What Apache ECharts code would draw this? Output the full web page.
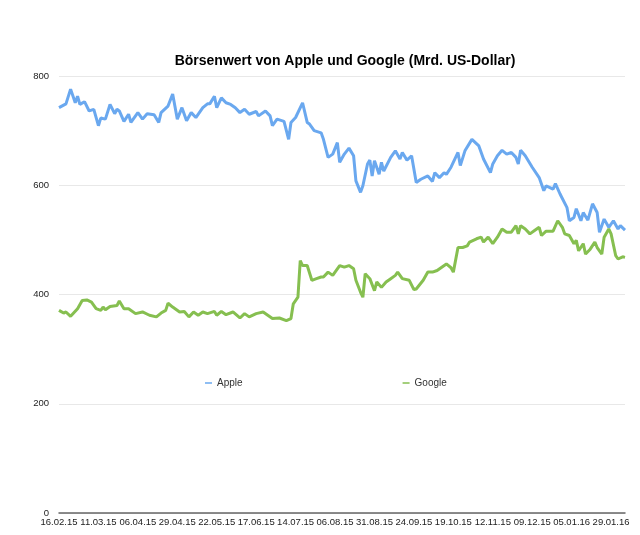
<!DOCTYPE html>
<html lang="de">
<head>
    <meta charset="UTF-8">
    <title>Börsenwert</title>
    <script src="https://cdn.jsdelivr.net/npm/echarts@6/dist/echarts.min.js"></script>
    <style>html,body{margin:0;background:#fff}</style>
</head>
<body>
    <div id="chart1" style="width:640px;height:535px;"></div>
<script type="text/javascript">
    // Handelstage ab 16.02.15, Beschriftung alle 17 Tage
    var tickLabels = ['16.02.15','11.03.15','06.04.15','29.04.15','22.05.15','17.06.15','14.07.15','06.08.15',
        '31.08.15','24.09.15','19.10.15','12.11.15','09.12.15','05.01.16','29.01.16']

    var appleDays = [0,3,5,7,8,9,11,13,15,17,18,20,22,24,25,26,28,30,31,34,36,38,41,43,44,47,49,51,53,55,57,59,62,64,65,67,68,70,72,74,76,78,80,82,85,86,89,91,92,94,97,99,100,102,105,107,108,110,113,114,116,118,120,121,123,125,127,128,130,131,133,134,135,136,138,139,140,143,145,147,148,150,152,154,156,159,161,162,164,166,167,169,172,173,175,178,181,183,186,187,189,191,193,195,197,198,199,201,204,207,209,210,213,214,216,219,220,222,223,225,226,228,230,232,233,235,237,239,241,242,244]
    var appleValues = [742,749,776,751,763,748,753,736,739,709,723,721,748,731,739,736,717,730,715,733,721,731,729,715,733,745,767,721,742,718,733,724,742,749,749,763,742,760,751,748,742,733,739,730,735,727,736,727,709,721,717,684,715,724,751,715,712,700,696,684,651,657,678,642,657,668,654,608,587,599,639,646,617,645,620,642,626,651,663,648,660,646,654,605,611,617,607,623,614,623,620,633,660,636,663,684,672,648,623,639,654,664,657,660,651,639,664,654,633,614,590,599,593,603,584,559,535,541,557,535,550,536,566,550,514,538,523,535,520,526,518]

    var googleDays = [0,2,3,5,8,10,12,14,16,18,19,20,22,25,26,28,30,33,36,39,42,44,46,47,49,52,54,56,58,60,62,64,67,68,70,72,75,78,80,82,85,88,90,92,95,98,100,101,103,104,105,107,109,111,113,114,116,118,121,123,125,127,128,130,131,132,134,136,137,139,141,143,145,146,148,151,153,154,157,159,161,163,165,167,169,170,172,174,176,177,180,182,183,185,187,189,191,193,195,197,198,199,201,203,205,207,208,210,213,215,217,218,220,222,223,224,226,227,229,231,232,234,235,237,238,240,241,243,244]
    var googleValues = [371,366,368,360,374,389,390,386,374,371,377,372,378,380,388,374,374,365,368,362,359,366,371,384,377,368,369,359,368,362,368,365,369,362,369,363,368,357,365,359,365,368,362,356,357,352,356,383,395,462,453,453,426,429,432,432,441,435,453,450,453,447,426,404,395,438,429,407,423,413,423,429,435,441,429,426,409,410,426,441,441,444,450,456,449,441,486,486,489,496,502,505,496,505,493,505,520,514,514,526,511,526,520,511,517,523,508,516,516,535,523,511,508,493,499,480,493,474,483,496,486,474,505,520,511,471,465,469,468]

    function pairs(days, values) {
        return days.map(function (d, i) { return [d, values[i]] })
    }

    var chart = echarts.init(document.getElementById('chart1'))
    var option = {
        animation: false,
        title: {
            text: 'Börsenwert von Apple und Google (Mrd. US-Dollar)',
            left: 340, top: 49, textAlign: 'center',
            textStyle: {fontFamily: 'Liberation Sans', fontSize: 14, fontWeight: 'bold', color: '#000'}
        },
        legend: {
            left: 200, top: 373, itemGap: 160,
            icon: 'rect', itemWidth: 7, itemHeight: 1.5,
            textStyle: {fontFamily: 'Liberation Sans', fontSize: 10, color: '#333'},
            data: ['Apple', 'Google']
        },
        grid: {left: 59, right: 15, top: 76, bottom: 22},
        xAxis: {
            type: 'value', min: 0, max: 244, interval: 17,
            axisLine: {lineStyle: {color: '#666', width: 1.5}},
            axisTick: {show: false},
            splitLine: {show: false},
            axisLabel: {
                showMaxLabel: false, margin: 4, fontSize: 9.5, color: '#222',
                fontFamily: 'Liberation Sans',
                formatter: function (v) { return v % 17 === 0 ? (tickLabels[v / 17] || '') : '' }
            }
        },
        yAxis: {
            type: 'value', min: 0, max: 800, interval: 200,
            axisLine: {show: false},
            axisTick: {show: false},
            splitLine: {lineStyle: {color: '#e8e8e8'}},
            axisLabel: {margin: 10, fontSize: 9.5, color: '#222', fontFamily: 'Liberation Sans'}
        },
        series: [
            {name: 'Apple', type: 'line', data: pairs(appleDays, appleValues), showSymbol: false,
             color: '#6aa8ef', lineStyle: {width: 3}},
            {name: 'Google', type: 'line', data: pairs(googleDays, googleValues), showSymbol: false,
             color: '#86bf50', lineStyle: {width: 3}}
        ]
    }
    chart.setOption(option)
</script>
</body>
</html>
